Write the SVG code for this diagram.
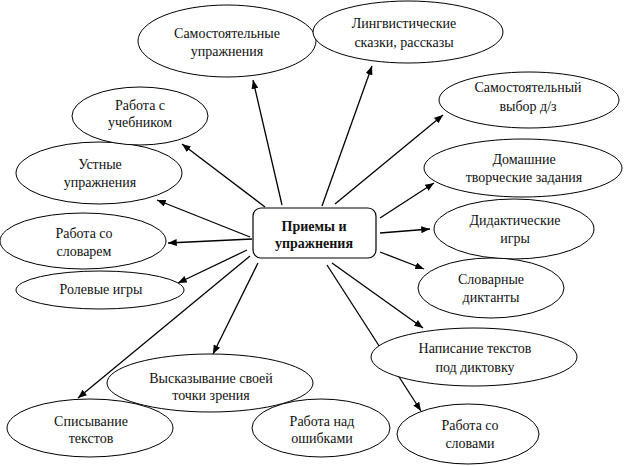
<svg xmlns="http://www.w3.org/2000/svg" width="626" height="466" viewBox="0 0 626 466">
<style>
  .n ellipse { fill: #fff; stroke: #000; stroke-width: 1; }
  .c { fill: #fff; stroke: #000; stroke-width: 1.2; }
  text { font-family: "Liberation Serif", "Times New Roman", serif; font-size: 14px; fill: #111; text-anchor: middle; }
  .b { font-weight: bold; }
  #connectors line { stroke: #000; stroke-width: 1.3; marker-end: url(#ah); }
</style>
<defs>
  <marker id="ah" viewBox="0 0 10 8" refX="10" refY="4" markerWidth="9" markerHeight="7" markerUnits="userSpaceOnUse" orient="auto">
    <path d="M0,0 L10,4 L0,8 z" fill="#000"/>
  </marker>
</defs>
<rect width="626" height="466" fill="#fff"/>
<g id="connectors">
  <line x1="282" y1="205" x2="253" y2="80"/>
  <line x1="322" y1="206" x2="372" y2="66"/>
  <line x1="335" y1="204" x2="443" y2="115"/>
  <line x1="380" y1="218" x2="434" y2="183"/>
  <line x1="380" y1="233" x2="430" y2="229"/>
  <line x1="380" y1="252" x2="424" y2="269"/>
  <line x1="332" y1="263" x2="423" y2="328"/>
  <line x1="327" y1="265" x2="421" y2="411"/>
  <line x1="258" y1="263" x2="213" y2="354"/>
  <line x1="250" y1="256" x2="78" y2="398"/>
  <line x1="247" y1="250" x2="178" y2="283"/>
  <line x1="252" y1="239" x2="168" y2="243"/>
  <line x1="250" y1="237" x2="157" y2="200"/>
  <line x1="265" y1="207" x2="182" y2="144"/>
</g>
<g id="center">
  <rect class="c" x="253" y="208" width="123" height="50" rx="8"/>
  <text class="b" x="314" y="231">Приемы и</text>
  <text class="b" x="314" y="248">упражнения</text>
</g>
<g id="n1" class="n"><ellipse cx="227" cy="41" rx="89" ry="36"/><text x="227" y="38">Самостоятельные</text><text x="227" y="56">упражнения</text></g>
<g id="n2" class="n"><ellipse cx="408" cy="32" rx="95" ry="31"/><text x="404" y="28">Лингвистические</text><text x="404" y="47">сказки, рассказы</text></g>
<g id="n3" class="n"><ellipse cx="529" cy="100" rx="90" ry="28"/><text x="528" y="92">Самостоятельный</text><text x="528" y="111">выбор д/з</text></g>
<g id="n4" class="n"><ellipse cx="523" cy="168" rx="99" ry="29"/><text x="524" y="164">Домашние</text><text x="524" y="182">творческие задания</text></g>
<g id="n5" class="n"><ellipse cx="514" cy="229" rx="80" ry="30"/><text x="515" y="225">Дидактические</text><text x="515" y="243">игры</text></g>
<g id="n6" class="n"><ellipse cx="491" cy="288" rx="73" ry="30"/><text x="491" y="284">Словарные</text><text x="491" y="302">диктанты</text></g>
<g id="n7" class="n"><ellipse cx="474" cy="357" rx="103" ry="29"/><text x="475" y="353">Написание текстов</text><text x="475" y="372">под диктовку</text></g>
<g id="n8" class="n"><ellipse cx="468" cy="434" rx="71" ry="30"/><text x="470" y="430">Работа со</text><text x="470" y="448">словами</text></g>
<g id="n9" class="n"><ellipse cx="321" cy="428" rx="69" ry="29"/><text x="322" y="426">Работа над</text><text x="322" y="443">ошибками</text></g>
<g id="n10" class="n"><ellipse cx="210" cy="383" rx="103" ry="29"/><text x="211" y="383">Высказывание своей</text><text x="211" y="400">точки зрения</text></g>
<g id="n11" class="n"><ellipse cx="90" cy="428" rx="83" ry="29"/><text x="91" y="426">Списывание</text><text x="91" y="443">текстов</text></g>
<g id="n12" class="n"><ellipse cx="100" cy="290" rx="84" ry="19"/><text x="101" y="294">Ролевые игры</text></g>
<g id="n13" class="n"><ellipse cx="83" cy="241" rx="83" ry="28"/><text x="84" y="238">Работа со</text><text x="84" y="256">словарем</text></g>
<g id="n14" class="n"><ellipse cx="99" cy="173" rx="83" ry="31"/><text x="100" y="169">Устные</text><text x="100" y="187">упражнения</text></g>
<g id="n15" class="n"><ellipse cx="140" cy="116" rx="68" ry="29"/><text x="140" y="110">Работа с</text><text x="140" y="127">учебником</text></g>
</svg>
